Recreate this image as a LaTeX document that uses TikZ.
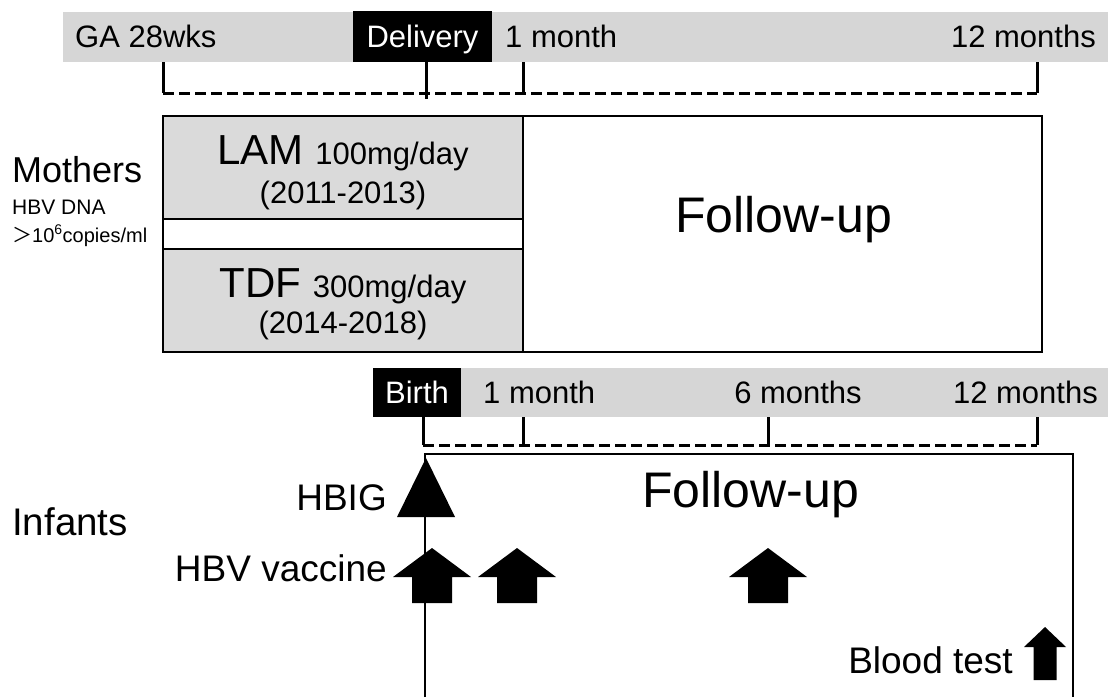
\documentclass[tikz,border=0pt]{standalone}
\usepackage{fontspec}
\setmainfont{Liberation Sans}
\newfontfamily\cjk{Noto Sans CJK JP}
\definecolor{bandgray}{RGB}{214,214,214}
\definecolor{boxgray}{RGB}{218,218,218}
\tikzset{
  lbl/.style={inner sep=0pt, anchor=base west},
  tick/.style={line width=3pt},
  dashline/.style={line width=3pt, dash pattern=on 11pt off 5pt},
  boxline/.style={line width=2.5pt},
  fs/.style={font=\fontsize{#1}{#1}\selectfont},
  vacc/.pic={\fill (-39,29) -- (0,0) -- (39,29) -- (20,29) -- (20,55) -- (-20,55) -- (-20,29) -- cycle;},
  bloodarrow/.pic={\fill (-21,20) -- (0,0) -- (21,20) -- (11.5,20) -- (11.5,53) -- (-11.5,53) -- (-11.5,20) -- cycle;}
}
\begin{document}
\begin{tikzpicture}[x=1pt,y=-1pt]
\useasboundingbox (0,0) rectangle (1108,697);
% ---------- mothers timeline ----------
\fill[bandgray] (63,12) rectangle (1108,62);
\fill[black] (353,11) rectangle (492,62);
\node[lbl, fs=31] (ga) at (75,47) {GA 28wks};
\node[lbl, fs=31, anchor=base, text=white] (deliv) at (422.5,47) {Delivery};
\node[lbl, fs=31] (m1) at (505,47) {1 month};
\node[lbl, fs=31, anchor=base east] (m12) at (1096,47) {12 months};
\coordinate (gaT) at (163,62);
\coordinate (gaB) at (163,93);
\coordinate (dT) at (426,62);
\coordinate (dB) at (426,99);
\coordinate (m1T) at (523,62);
\coordinate (m1B) at (523,93);
\coordinate (m12T) at (1037,62);
\coordinate (m12B) at (1037,93);
\draw[tick] (gaT) -- (gaB);
\draw[tick] (dT) -- (dB);
\draw[tick] (m1T) -- (m1B);
\draw[tick] (m12T) -- (m12B);
\draw[dashline] (gaB) -- (m12B);
% ---------- mothers boxes ----------
\draw[boxline, fill=white] (163,116) rectangle (1042,352);
\draw[boxline, fill=boxgray] (163,116) rectangle (523,219);
\draw[boxline, fill=boxgray] (163,249) rectangle (523,352);
\draw[boxline] (523,219) -- (523,249);
\node[lbl, fs=36] (moth) at (12,182) {Mothers};
\node[lbl, fs=21] (dna) at (12,214) {HBV DNA};
\node[lbl, fs=20] (cop) at (12,242) {{\cjk ＞}10\textsuperscript{6}copies/ml};
\node[lbl, anchor=base] (lam) at (343,164) {\fontsize{42}{42}\selectfont LAM \fontsize{31}{31}\selectfont 100mg/day};
\node[lbl, fs=31, anchor=base] (lamy) at (343,203) {(2011-2013)};
\node[lbl, anchor=base] (tdf) at (343,297) {\fontsize{42}{42}\selectfont TDF \fontsize{31}{31}\selectfont 300mg/day};
\node[lbl, fs=31, anchor=base] (tdfy) at (343,333) {(2014-2018)};
\node[lbl, fs=50] (fum) at (675,232) {Follow-up};
% ---------- infants timeline ----------
\fill[bandgray] (373,368) rectangle (1108,417);
\fill[black] (373,368) rectangle (461,417);
\node[lbl, fs=31, anchor=base, text=white] (birth) at (417,403) {Birth};
\node[lbl, fs=31] (i1) at (483,403) {1 month};
\node[lbl, fs=31, anchor=base] (i6) at (798,403) {6 months};
\node[lbl, fs=31, anchor=base east] (i12) at (1098,403) {12 months};
\coordinate (bT) at (423,417);
\coordinate (bB) at (423,445);
\coordinate (i1T) at (523,417);
\coordinate (i1B) at (523,445);
\coordinate (i6T) at (768,417);
\coordinate (i6B) at (768,445);
\coordinate (i12T) at (1037,417);
\coordinate (i12B) at (1037,445);
\draw[tick] (bT) -- (bB);
\draw[tick] (i1T) -- (i1B);
\draw[tick] (i6T) -- (i6B);
\draw[tick] (i12T) -- (i12B);
\draw[dashline] (bB) -- (i12B);
% ---------- infants box ----------
\draw[boxline] (425,697) -- (425,454) -- (1073,454) -- (1073,697);
\node[lbl, fs=50] (fui) at (642,507) {Follow-up};
\node[lbl, fs=38.5] (inf) at (12,535) {Infants};
\node[lbl, fs=37, anchor=base east] (hbig) at (387,510) {HBIG};
\node[lbl, fs=37, anchor=base east] (vac) at (387,581) {HBV vaccine};
\node[lbl, fs=37, anchor=base east] (blood) at (1013,673) {Blood test};
\fill (426,458) -- (455,517) -- (397,517) -- cycle;
\pic (v1) at (432,548) {vacc};
\pic (v2) at (517,548) {vacc};
\pic (v3) at (768,548) {vacc};
\pic (bt) at (1045,627) {bloodarrow};
\end{tikzpicture}
\end{document}
